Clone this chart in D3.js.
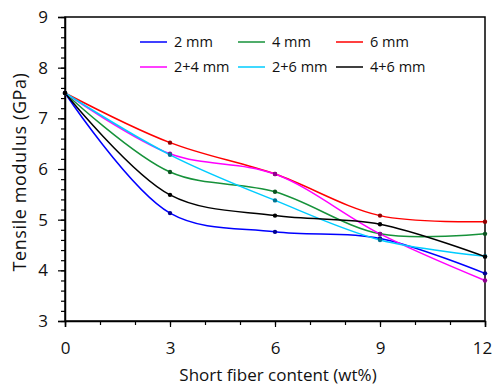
<!DOCTYPE html>
<html>
<head>
<meta charset="utf-8">
<script src="https://cdn.jsdelivr.net/npm/d3@7"></script>
<style>
  body { margin: 0; background: #fff; }
  text { font-family: "Open Sans", sans-serif; fill: #111; }
</style>
</head>
<body>
<div id="chart"></div>
<script>
// data
const fiberContent = [0, 3, 6, 9, 12];
const seriesNames = ["2 mm", "4 mm", "6 mm", "2+4 mm", "2+6 mm", "4+6 mm"];
const seriesColors = ["#0000ff", "#16923a", "#ff0000", "#ff00ff", "#00ccff", "#000000"];
const mod2 = [7.5, 5.13, 4.76, 4.63, 3.94];
const mod4 = [7.5, 5.94, 5.55, 4.72, 4.72];
const mod6 = [7.5, 6.52, 5.9, 5.08, 4.96];
const mod24 = [7.5, 6.3, 5.9, 4.72, 3.8];
const mod26 = [7.5, 6.28, 5.38, 4.6, 4.28];
const mod46 = [7.5, 5.49, 5.08, 4.91, 4.27];
const seriesValues = [mod2, mod4, mod6, mod24, mod26, mod46];
const yTicks = [3, 4, 5, 6, 7, 8, 9];
const xTicks = [0, 3, 6, 9, 12];

const width = 492, height = 385;
const margin = { top: 17, right: 7, bottom: 64, left: 65 };

const svg = d3.select("#chart").append("svg")
  .attr("width", width)
  .attr("height", height);

const x = d3.scaleLinear().domain([0, 12]).range([margin.left, width - margin.right]);
const y = d3.scaleLinear().domain([3, 9]).range([height - margin.bottom, margin.top]);

// frame
svg.append("rect")
  .attr("x", x(0)).attr("y", y(9))
  .attr("width", x(12) - x(0)).attr("height", y(3) - y(9))
  .attr("fill", "none").attr("stroke", "#000").attr("stroke-width", 1.5);

// y axis, minor then major
svg.append("g")
  .attr("transform", `translate(${x(0)},0)`)
  .call(d3.axisLeft(y).tickValues(d3.range(3, 9.01, 0.2)).tickSize(4).tickFormat(""))
  .call(g => g.select(".domain").remove());
svg.append("g")
  .attr("transform", `translate(${x(0)},0)`)
  .call(d3.axisLeft(y).tickValues(yTicks).tickSize(7).tickPadding(10).tickFormat(d3.format("d")))
  .call(g => g.select(".domain").attr("stroke-width", 1.5))
  .call(g => g.selectAll("text").style("font-size", "17px"));

// x axis
svg.append("g")
  .attr("transform", `translate(0,${y(3)})`)
  .call(d3.axisBottom(x).tickValues(d3.range(0, 13, 1)).tickSize(4).tickFormat(""))
  .call(g => g.select(".domain").remove());
svg.append("g")
  .attr("transform", `translate(0,${y(3)})`)
  .call(d3.axisBottom(x).tickValues(xTicks).tickSize(6).tickPadding(15).tickFormat(d3.format("d")))
  .call(g => g.select(".domain").attr("stroke-width", 1.5))
  .call(g => g.selectAll("text").style("font-size", "17px")
    .attr("dx", d => d === 12 ? -3 : 0));

svg.selectAll(".tick line").attr("stroke-width", 1.2);

// titles
svg.append("text")
  .attr("x", (x(0) + x(12)) / 2 + 3).attr("y", 381)
  .attr("text-anchor", "middle")
  .style("font-size", "17px")
  .text("Short fiber content (wt%)");
svg.append("text")
  .attr("transform", `translate(26,${(y(3) + y(9)) / 2 + 3}) rotate(-90)`)
  .attr("text-anchor", "middle")
  .style("font-size", "18px")
  .style("letter-spacing", "0.6px")
  .text("Tensile modulus (GPa)");

// lines
const line = d3.line()
  .x((d, i) => x(fiberContent[i]))
  .y(d => y(d))
  .curve(d3.curveCatmullRom.alpha(0.5));

seriesValues.forEach((vals, s) => {
  svg.append("path")
    .datum(vals)
    .attr("d", line)
    .attr("fill", "none")
    .attr("stroke", seriesColors[s])
    .attr("stroke-width", 1.5);
});
seriesValues.forEach((vals, s) => {
  svg.selectAll(null)
    .data(vals)
    .join("circle")
    .attr("cx", (d, i) => x(fiberContent[i]))
    .attr("cy", d => y(d))
    .attr("r", 2.2)
    .attr("fill", d3.color(seriesColors[s]).darker(1.6))
    .attr("stroke", "none");
});

// legend
const legendX = [140, 238, 336];
const legendY = [42, 67];
const legend = svg.append("g");
seriesNames.forEach((name, i) => {
  const lx = legendX[i % 3], ly = legendY[Math.floor(i / 3)];
  legend.append("line")
    .attr("x1", lx).attr("x2", lx + 27)
    .attr("y1", ly).attr("y2", ly)
    .attr("stroke", seriesColors[i]).attr("stroke-width", 1.5);
  legend.append("text")
    .attr("x", lx + 34).attr("y", ly)
    .attr("dy", "0.35em")
    .style("font-size", "14.5px")
    .text(name);
});
</script>
</body>
</html>
